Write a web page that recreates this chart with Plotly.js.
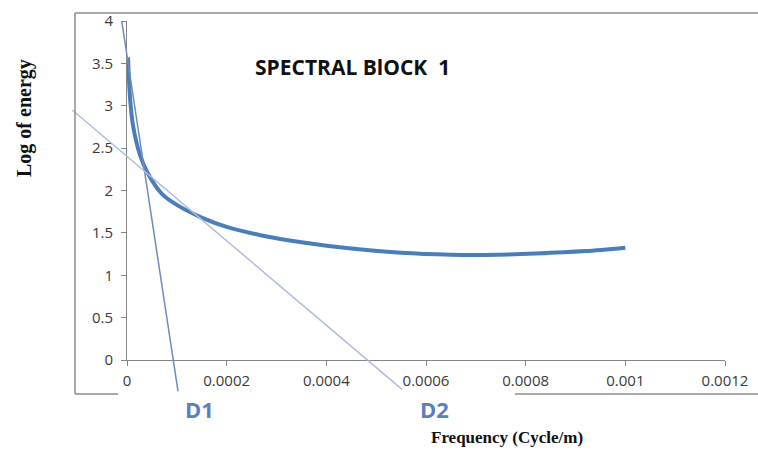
<!DOCTYPE html>
<html>
<head>
<meta charset="utf-8">
<script src="https://cdn.plot.ly/plotly-3.0.1.min.js"></script>
<style>html,body{margin:0;padding:0;background:#fff;}#chart{width:758px;height:451px;}</style>
</head>
<body>
<div id="chart"></div>
<script>
// ---- data ----
const freq = [0.000002, 0.000006, 0.000012, 0.000026, 0.000042, 0.00007, 0.0001, 0.00015, 0.0002, 0.00027, 0.00035, 0.00045, 0.00055, 0.00065, 0.00072, 0.00082, 0.00092, 0.001];
const logEnergy = [3.57, 3.1, 2.77, 2.42, 2.2, 1.96, 1.83, 1.68, 1.57, 1.47, 1.39, 1.315, 1.265, 1.242, 1.24, 1.256, 1.285, 1.325];
const d1X = [-0.0000106, 0.0001024];
const d1Y = [4, -0.37];
const d2X = [-0.00011, 0.000552];
const d2Y = [2.95, -0.346];
const xTickVals = [0, 0.0002, 0.0004, 0.0006, 0.0008, 0.001, 0.0012];
const xTickText = ['0', '0.0002', '0.0004', '0.0006', '0.0008', '0.001', '0.0012'];
const yTickVals = [0, 0.5, 1, 1.5, 2, 2.5, 3, 3.5, 4];
const yTickText = ['0', '0.5', '1', '1.5', '2', '2.5', '3', '3.5', '4'];
const xRange = [0, 0.0012];
const yRange = [0, 4];

// ---- layout geometry (pixels) ----
const W = 758, H = 451;
const M = {l: 50, r: 33, t: 21, b: 40};
const pw = W - M.l - M.r, ph = H - M.t - M.b;
const plotLeft = 127, plotBottom = 360; // main axes origin
const px = x => (x - M.l) / pw;
const py = y => (H - M.b - y) / ph;

const xDom = [px(plotLeft), 1];
const yDom = [py(plotBottom), 1];
// overlay axes covering whole paper area with identical scale
const xSpan = xRange[1] - xRange[0];
const x2Range = [xRange[0] - xDom[0] / (xDom[1] - xDom[0]) * xSpan, xRange[1] + (1 - xDom[1]) / (xDom[1] - xDom[0]) * xSpan];
const ySpan = yRange[1] - yRange[0];
const y2Range = [yRange[0] - yDom[0] / (yDom[1] - yDom[0]) * ySpan, yRange[1] + (1 - yDom[1]) / (yDom[1] - yDom[0]) * ySpan];

const axisColor = '#868686';
const tickFont = {family: 'Open Sans, sans-serif', size: 15, color: '#3a3a3a'};

const traces = [
  {x: d1X, y: d1Y, type: 'scatter', mode: 'lines', xaxis: 'x2', yaxis: 'y2',
   line: {color: '#6f8ac0', width: 1.5}, hoverinfo: 'skip'},
  {x: d2X, y: d2Y, type: 'scatter', mode: 'lines', xaxis: 'x2', yaxis: 'y2',
   line: {color: '#aebddb', width: 1.5}, hoverinfo: 'skip'},
  {x: freq, y: logEnergy, type: 'scatter', mode: 'lines', xaxis: 'x', yaxis: 'y',
   line: {color: '#4A7EBB', width: 4, shape: 'spline', smoothing: 0.8}, hoverinfo: 'skip'}
];

const frame = {color: '#8c8c8c', width: 1.5};
const ann = (text, x, y, font, extra) => Object.assign({text: text, xref: 'paper', yref: 'paper', x: px(x), y: py(y),
  xanchor: 'center', yanchor: 'middle', showarrow: false, font: font}, extra || {});
const layout = {
  width: W, height: H,
  margin: M,
  paper_bgcolor: '#ffffff', plot_bgcolor: 'rgba(0,0,0,0)',
  showlegend: false,
  xaxis: {domain: xDom, range: xRange, anchor: 'y', showgrid: false, zeroline: false,
    showline: true, linecolor: axisColor, linewidth: 1, ticks: 'outside', ticklen: 5, tickcolor: axisColor,
    tickvals: xTickVals, ticktext: xTickText, tickfont: tickFont, ticklabelstandoff: 2},
  yaxis: {domain: yDom, range: yRange, anchor: 'x', showgrid: false, zeroline: false,
    showline: true, linecolor: axisColor, linewidth: 1, ticks: 'outside', ticklen: 5, tickcolor: axisColor,
    tickvals: yTickVals, ticktext: yTickText, tickfont: tickFont, ticklabelstandoff: 5},
  xaxis2: {domain: [0, 1], range: x2Range, anchor: 'y2', visible: false, fixedrange: true},
  yaxis2: {domain: [0, 1], range: y2Range, anchor: 'x2', visible: false, fixedrange: true},
  shapes: [
    {type: 'line', xref: 'paper', yref: 'paper', x0: px(75), x1: px(758), y0: py(13), y1: py(13), line: frame},
    {type: 'line', xref: 'paper', yref: 'paper', x0: px(75), x1: px(75), y0: py(13), y1: py(394), line: frame},
    {type: 'line', xref: 'paper', yref: 'paper', x0: px(75), x1: px(118), y0: py(394), y1: py(394), line: frame},
    {type: 'line', xref: 'paper', yref: 'paper', x0: px(515), x1: px(758), y0: py(394), y1: py(394), line: frame}
  ],
  annotations: [
    ann('SPECTRAL BlOCK \u00a01', 352, 67, {family: 'Open Sans, sans-serif', size: 21, color: '#111111', weight: 'bold'}),
    ann('<b>D1</b>', 199, 409, {family: 'Open Sans, sans-serif', size: 22, color: '#5a7fbf'}),
    ann('<b>D2</b>', 434, 409, {family: 'Open Sans, sans-serif', size: 22, color: '#5a7fbf'}),
    ann('<b>Frequency (Cycle/m)</b>', 507, 437, {family: 'Liberation Serif, serif', size: 17, color: '#111111'}),
    ann('<b>Log of energy</b>', 24, 118, {family: 'Liberation Serif, serif', size: 20, color: '#111111'}, {textangle: -90})
  ]
};

Plotly.newPlot('chart', traces, layout, {displayModeBar: false, staticPlot: true});
</script>
</body>
</html>
